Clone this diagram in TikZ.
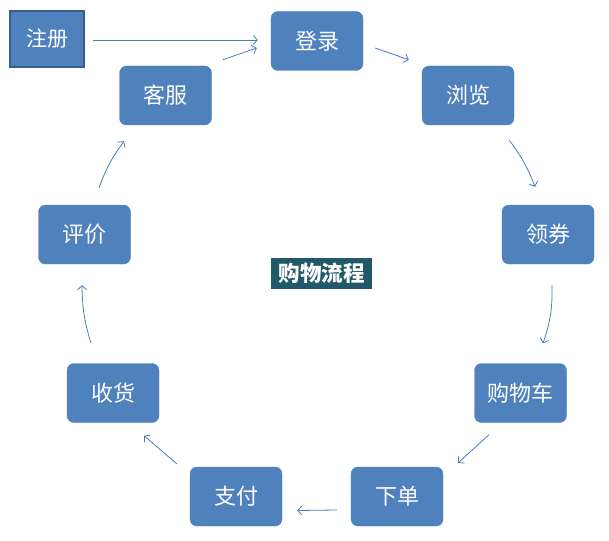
\documentclass[tikz,border=0pt]{standalone}
\usepackage{fontspec}
\newfontfamily\cjk{Noto Sans CJK SC}
\usetikzlibrary{arrows.meta,calc}
\definecolor{boxblue}{RGB}{79,129,189}
\definecolor{boxedge}{RGB}{56,93,138}
\definecolor{arrowblue}{RGB}{74,126,187}
\definecolor{tealbg}{RGB}{33,89,104}
\begin{document}
\begin{tikzpicture}[x=1pt,y=-1pt,
  stepbox/.style={fill=boxblue, draw=boxblue, rounded corners=7pt, minimum width=92pt, minimum height=59pt,
    inner sep=0pt, text=white, font={\cjk\fontsize{22}{26}\selectfont}},
  startbox/.style={fill=boxblue, draw=boxedge, line width=1.6pt, minimum width=74pt, minimum height=56pt,
    inner sep=0pt, text=white, font={\cjk\fontsize{21}{25}\selectfont}},
  titlebox/.style={fill=tealbg, minimum width=101pt, minimum height=31pt, inner sep=0pt, text=white,
    font={\cjk\bfseries\fontsize{21.5}{24}\selectfont}},
  flow/.style={draw=arrowblue, line width=0.8pt, -{Straight Barb[length=4pt,width=9pt]}}]
\useasboundingbox[fill=white] (0,0) rectangle (609,540);

\node[startbox] (zc) at (47,39) {注册};
\node[stepbox] (dl) at (317,41) {登录};
\node[stepbox] (kf) at (165.5,95.5) {客服};
\node[stepbox] (ll) at (468,95.5) {浏览};
\node[stepbox] (lq) at (548,234.5) {领券};
\node[stepbox] (pj) at (84.5,234.5) {评价};
\node[stepbox] (sh) at (113,393) {收货};
\node[stepbox] (gwc) at (520.5,393) {购物车};
\node[stepbox] (zf) at (236,496.5) {支付};
\node[stepbox] (xd) at (397,496.5) {下单};
\node[titlebox] (title) at (321.5,273.5) {购物流程};

\draw[flow] ($(zc.east)+(8,1)$) -- ($(dl.west)+(-13,-1)$);
\draw[flow] ($(kf.north east)+(11,-6)$) -- ($(dl.west)+(-14,7)$);
\draw[flow] ($(dl.east)+(12,7)$) -- ($(ll.north west)+(-13,-6)$);
\draw[flow] ($(ll.south east)+(-5,15)$) to[bend left=8] ($(lq.north)+(-13,-18)$);
\draw[flow] ($(lq.south)+(4,21)$) to[bend left=10] ($(gwc.north)+(22.5,-20)$);
\draw[flow] ($(gwc.south)+(-31.5,12)$) -- ($(xd.north east)+(15,-4)$);
\draw[flow] ($(xd.west)+(-14,13.5)$) -- ($(zf.east)+(15,14)$);
\draw[flow] ($(zf.north west)+(-13,-3)$) -- ($(sh.south)+(31,13)$);
\draw[flow] ($(sh.north)+(-22,-20)$) to[bend left=8] ($(pj.south)+(-2.5,21)$);
\draw[flow] ($(pj.north)+(14.5,-17)$) to[bend left=8] ($(kf.south)+(-41.5,16)$);
\end{tikzpicture}
\end{document}
